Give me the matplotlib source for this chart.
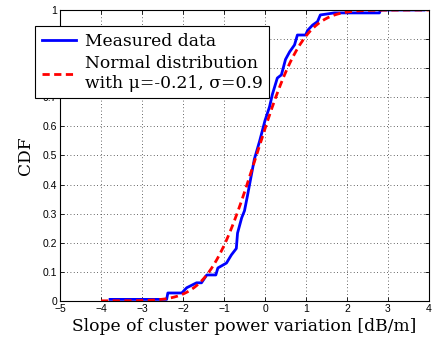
#!/usr/bin/env python3

import numpy as np
import matplotlib
matplotlib.use('Agg')
import matplotlib.pyplot as plt
from math import erf, sqrt

meas_x = [-3.78, -2.40, -2.37, -2.03, -1.91, -1.67, -1.55, -1.42, -1.20, -1.15,
          -0.94, -0.82, -0.70, -0.67, -0.57, -0.50, -0.43, -0.35, -0.26, -0.13,
          0.00, 0.11, 0.18, 0.30, 0.40, 0.50, 0.60, 0.72, 0.79, 0.99, 1.04,
          1.16, 1.28, 1.35, 1.69, 2.79, 2.82, 3.88]
meas_y = [0.005, 0.005, 0.027, 0.027, 0.045, 0.062, 0.062, 0.089, 0.089, 0.113,
          0.130, 0.158, 0.180, 0.233, 0.285, 0.310, 0.360, 0.420, 0.487, 0.550,
          0.620, 0.667, 0.710, 0.766, 0.777, 0.830, 0.856, 0.880, 0.914, 0.914,
          0.930, 0.948, 0.960, 0.983, 0.990, 0.990, 1.000, 1.000]

MU = -0.21
SIGMA = 0.9
fit_range = (-4.0, 4.0)

xticks = [-5, -4, -3, -2, -1, 0, 1, 2, 3, 4]
yticks = [0, 0.1, 0.2, 0.3, 0.4, 0.5, 0.6, 0.7, 0.8, 0.9, 1]

SERIF = 'DejaVu Serif'


def main():
    fig = plt.figure(figsize=(4.32, 3.45), dpi=100)
    ax = fig.add_axes([0.139, 0.128, 0.854, 0.843])

    xs = np.linspace(fit_range[0], fit_range[1], 400)
    cdf = np.array([0.5 * (1 + erf((v - MU) / (SIGMA * sqrt(2)))) for v in xs])

    ax.plot(meas_x, meas_y, color='#0000ff', lw=2.0, label='Measured data')
    ax.plot(xs, cdf, color='#ff0000', lw=2.0, ls=(0, (2.6, 1.6)),
            label='Normal distribution\nwith \u03bc=-0.21, \u03c3=0.9')

    ax.set_xlim(-5, 4)
    ax.set_ylim(0, 1)
    ax.set_xticks(xticks)
    ax.set_yticks(yticks)
    ax.set_xticklabels([str(t).replace('-', '\u2212') for t in xticks])
    ax.set_yticklabels(['0' if t == 0 else ('1' if t == 1 else f'{t:g}') for t in yticks])
    ax.tick_params(direction='in', top=True, right=True, labelsize=7.5,
                   length=3, width=0.6, pad=2)
    for lab in ax.get_xticklabels() + ax.get_yticklabels():
        lab.set_family('Liberation Sans')
    ax.grid(True, ls=(0, (1, 3)), color='#333333', lw=0.6)
    for s in ax.spines.values():
        s.set_linewidth(0.8)

    ax.set_xlabel('Slope of cluster power variation [dB/m]',
                  family=SERIF, fontsize=12.3, labelpad=3)
    ax.set_ylabel('CDF', family=SERIF, fontsize=12.3, labelpad=6)

    leg = ax.legend(loc='upper left', bbox_to_anchor=(35 / 432, 1 - 26 / 345),
                    bbox_transform=fig.transFigure,
                    prop={'family': SERIF, 'size': 12.3},
                    fancybox=False, framealpha=1, edgecolor='black',
                    borderpad=0.4, labelspacing=0.3, handlelength=2.0,
                    handletextpad=0.5, borderaxespad=0)
    leg.get_frame().set_linewidth(0.8)

    fig.savefig('out.png', dpi=100)


if __name__ == '__main__':
    main()
